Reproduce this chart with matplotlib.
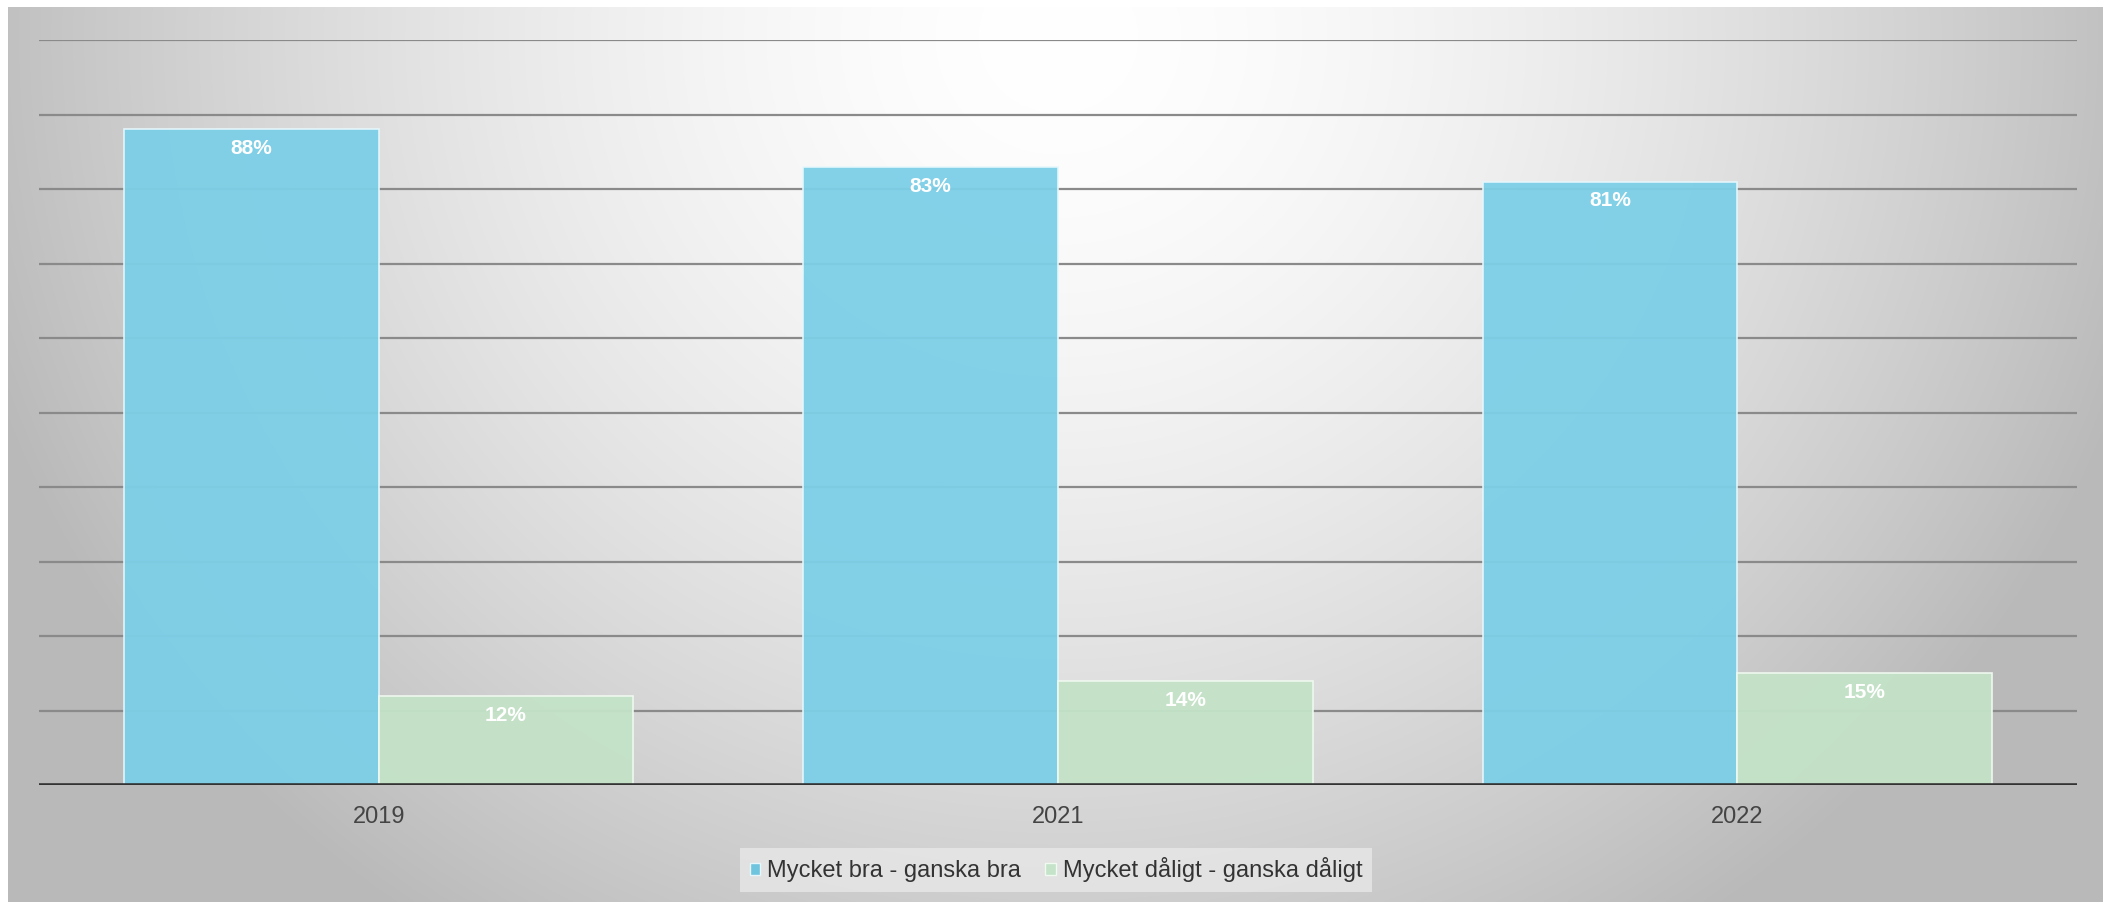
import numpy as np
import matplotlib
matplotlib.use("Agg")
import matplotlib.pyplot as plt
from matplotlib.patches import Rectangle

plt.rcParams['font.family'] = ['Liberation Sans', 'DejaVu Sans']

years = ["2019", "2021", "2022"]
series_names = ["Mycket bra - ganska bra", "Mycket dåligt - ganska dåligt"]
good = [88, 83, 81]
bad = [12, 14, 15]

W, H = 2103, 902
fig = plt.figure(figsize=(W / 100, H / 100), dpi=100)
fig.patch.set_facecolor("white")

# background radial gradient panel
bg = fig.add_axes([8 / W, 0, (W - 8) / W, (H - 7) / H], zorder=0)
yy, xx = np.mgrid[0:H - 7, 0:W - 8]
d = np.sqrt(((xx - 1050) / 1050.0) ** 2 + ((yy - 30) / 1000.0) ** 2)
g = np.clip(255 - 62 * d ** 1.6, 185, 255) / 255.0
bg.imshow(np.dstack([g, g, g]), aspect="auto", interpolation="bilinear")
bg.set_axis_off()

ax = fig.add_axes([39 / W, 117 / H, 2038 / W, 745 / H], zorder=1)
ax.patch.set_alpha(0)

x = np.arange(len(years))
bw = 0.375
b1 = ax.bar(x - bw / 2, good, bw, color="#7ccfe7", edgecolor="#e6f7fc",
            linewidth=1.2, alpha=0.95, zorder=3, label=series_names[0])
b2 = ax.bar(x + bw / 2, bad, bw, color="#c4e3c8", edgecolor="#f0faf1",
            linewidth=1.2, alpha=0.95, zorder=3, label=series_names[1])

for bars, vals in ((b1, good), (b2, bad)):
    for r, v in zip(bars, vals):
        ax.annotate(f"{v}%", (r.get_x() + r.get_width() / 2, v),
                    xytext=(0, -14), textcoords="offset points",
                    ha="center", va="center", color="white",
                    fontsize=15, fontweight="bold", zorder=5)

ax.set_xlim(-0.5, len(years) - 0.5)
ax.set_ylim(0, 100)
for yv in range(10, 101, 10):
    ax.axhline(yv, color="#8a8a8a", linewidth=1.6, zorder=1)
ax.axhline(0, color="#333333", linewidth=2.6, zorder=4)

ax.set_xticks(x)
ax.set_xticklabels(years, fontsize=17, color="#444444")
ax.tick_params(axis="x", length=0, pad=15)
ax.set_yticks([])
for s in ax.spines.values():
    s.set_visible(False)

handles = [Rectangle((0, 0), 1, 1, facecolor="#6fc4de", edgecolor="#e6f7fc"),
           Rectangle((0, 0), 1, 1, facecolor="#c4e3c8", edgecolor="#f0faf1")]
leg = fig.legend(handles, series_names, loc="center",
                 bbox_to_anchor=(1056 / W, 32 / H), ncol=2, frameon=True,
                 fontsize=17, handlelength=0.45, handleheight=0.45,
                 handletextpad=0.3, columnspacing=1.0, borderpad=0.4,
                 fancybox=False)
leg.get_frame().set_facecolor("#ebebeb")
leg.get_frame().set_edgecolor("none")
leg.get_frame().set_alpha(0.7)
for t in leg.get_texts():
    t.set_color("#333333")

fig.savefig("out.png", dpi=100)
